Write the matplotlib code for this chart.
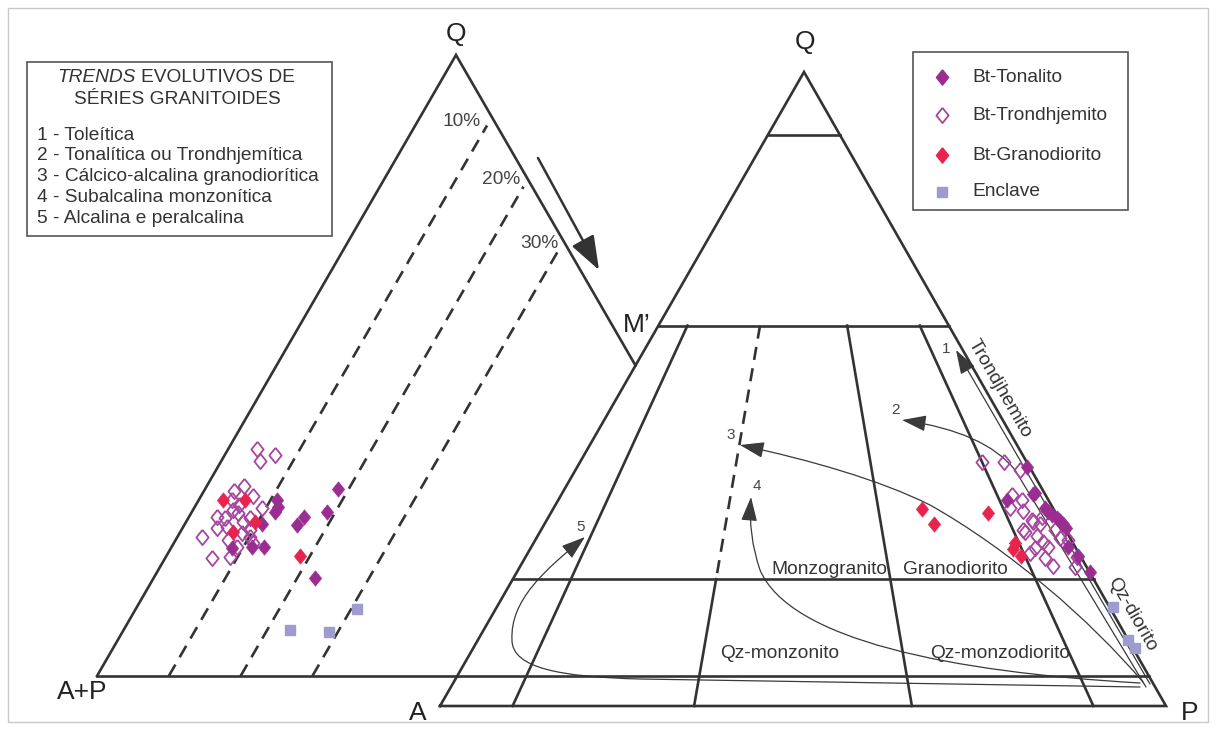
import numpy as np
import matplotlib.pyplot as plt
from matplotlib.path import Path
from matplotlib.patches import FancyArrowPatch, Rectangle

plt.rcParams['font.family'] = ['Liberation Sans', 'DejaVu Sans']

# ---- data (diagram coordinates, y downwards) ----
# left triangle Q-(A+P)-M'
ton_left_x = [277, 278, 275, 297, 304, 252, 264, 232, 327, 338, 315, 262]
ton_left_y = [500, 507, 512, 525, 517, 547, 547, 548, 512, 489, 578, 524]
tro_left_x = [257, 275, 260, 244, 234, 253, 232, 239, 233, 217, 225, 238, 243, 262,
              250, 217, 227, 250, 242, 202, 228, 253, 250, 212, 230, 237]
tro_left_y = [449, 455, 461, 486, 491, 496, 500, 505, 510, 517, 518, 513, 522, 508,
              518, 528, 527, 530, 533, 537, 540, 543, 537, 558, 557, 547]
gra_left_x = [223, 245, 255, 233, 300]
gra_left_y = [500, 500, 522, 532, 556]
enc_left_x = [290, 329, 357]
enc_left_y = [630, 632, 609]

# right triangle QAP
ton_right_x = [1027, 1035, 1007, 1033, 1045, 1048, 1052, 1057, 1060, 1063, 1066,
               1068, 1078, 1090]
ton_right_y = [467, 493, 500, 494, 508, 512, 515, 518, 521, 524, 528, 547, 556, 572]
tro_right_x = [982, 1004, 1020, 1012, 1022, 1010, 1023, 1032, 1042, 1025, 1037, 1043,
               1035, 1030, 1048, 1045, 1053, 1075, 1060, 1055, 1068, 1077, 1033, 1040,
               1023]
tro_right_y = [462, 462, 470, 495, 500, 508, 511, 520, 517, 532, 536, 542, 548, 553,
               547, 558, 566, 567, 538, 530, 540, 557, 522, 524, 530]
gra_right_x = [922, 934, 988, 1015, 1013, 1021]
gra_right_y = [509, 524, 513, 543, 549, 556]
enc_right_x = [1113, 1128, 1135]
enc_right_y = [607, 640, 648]

legend_names = ['Bt-Tonalito', 'Bt-Trondhjemito', 'Bt-Granodiorito', 'Enclave']
trend_names = ['1 - Toleítica', '2 - Tonalítica ou Trondhjemítica',
               '3 - Cálcico-alcalina granodiorítica', '4 - Subalcalina monzonítica',
               '5 - Alcalina e peralcalina']
field_ratios = [0.10, 0.35, 0.65, 0.90]   # P/(A+P)
q_levels = [0.9, 0.6, 0.2, 0.047]
mprime_levels = [0.10, 0.20, 0.30]

c_ton = '#9a2d92'
c_tro = '#a5479f'
c_gra = '#e8244e'
c_enc = '#9e9cce'
lc = '#333333'
tc = '#333333'
fs = 13.8

fig = plt.figure(figsize=(12.17, 7.31), dpi=100)
ax = fig.add_axes([0, 0, 1, 1])
ax.set_xlim(0, 1217)
ax.set_ylim(731, 0)
ax.axis('off')

ax.add_patch(Rectangle((8, 8), 1200, 714, fill=False, ec='#c8c8c8', lw=1))

lw = 1.9

# ---- left triangle ----
LQ = np.array([456, 55]); LB = np.array([97, 676])
side = 2 * (LQ[0] - LB[0])
s_l = (LQ[0] - LB[0]) / (LB[1] - LQ[1])

# right triangle vertices
RQ = np.array([804, 72]); RA = np.array([440, 706]); RP = np.array([1166, 706])


def tern(q, r):
    a = (1 - q) * (1 - r)
    p = (1 - q) * r
    return q * RQ + a * RA + p * RP


# intersection of left triangle right edge with right triangle left edge (M')
s_ra = (RQ[0] - RA[0]) / (RA[1] - RQ[1])
ym = (RA[0] + RA[1] * s_ra - LQ[0] + LQ[1] * s_l) / (s_l + s_ra)
xm = LQ[0] + (ym - LQ[1]) * s_l
x_bot = RA[0] + (RA[1] - LB[1]) * s_ra

ax.plot([LB[0], LQ[0], xm], [LB[1], LQ[1], ym], color=lc, lw=lw, solid_joinstyle='miter')
ax.plot([LB[0], x_bot], [LB[1], LB[1]], color=lc, lw=lw)

for f in mprime_levels:
    x0 = LB[0] + f * side
    yt = (x0 + LB[1] * s_l - LQ[0] + LQ[1] * s_l) / (2 * s_l)
    xt = LQ[0] + (yt - LQ[1]) * s_l
    t = 0.985
    ax.plot([x0, x0 + t * (xt - x0)], [LB[1], LB[1] + t * (yt - LB[1])],
            color=lc, lw=lw, dashes=(5, 3.2))

for lab, (x, y) in zip(['10%', '20%', '30%'], [(462, 121), (501, 180), (539, 243)]):
    ax.text(x, y, lab, fontsize=fs, color='#444444', ha='center', va='center')

ax.add_patch(FancyArrowPatch((538, 158), (599, 270),
                             arrowstyle='-|>,head_length=1.5,head_width=0.55',
                             mutation_scale=14, color=lc, lw=1.8, shrinkA=0, shrinkB=0))

# ---- right triangle ----
ax.plot([RA[0], RQ[0], RP[0], RA[0]], [RA[1], RQ[1], RP[1], RA[1]], color=lc, lw=lw,
        solid_joinstyle='miter')
for q in q_levels:
    p0 = tern(q, 0); p1 = tern(q, 1)
    ax.plot([p0[0], p1[0]], [p0[1], p1[1]], color=lc, lw=lw)

for r in field_ratios:
    if r == 0.35:
        a, b = tern(0.6, r), tern(0.2, r)
        ax.plot([a[0], b[0]], [a[1], b[1]], color=lc, lw=lw, dashes=(5, 3.2))
        a, b = tern(0.2, r), tern(0, r)
    else:
        a, b = tern(0.6, r), tern(0, r)
    ax.plot([a[0], b[0]], [a[1], b[1]], color=lc, lw=lw)

# trends
M, L, C3, C4 = Path.MOVETO, Path.LINETO, Path.CURVE3, Path.CURVE4
trends = [
    ([(1150, 684), (956, 350)], [M, L]),
    ([(1146, 687), (1015, 470), (985, 432), (902, 420)], [M, L, C3, C3]),
    ([(1143, 682), (1090, 620), (1010, 550), (930, 505), (880, 480), (810, 460), (740, 445)],
     [M, C4, C4, C4, C4, C4, C4]),
    ([(1140, 683), (950, 672), (790, 640), (760, 570), (748, 535), (751, 497)],
     [M, C4, C4, C4, C3, C3]),
    ([(1140, 687), (640, 679), (560, 677), (512, 668), (512, 640), (510, 600), (545, 570),
      (585, 537)], [M, L, C4, C4, C4, C4, C4, C4]),
]
for verts, codes in trends:
    ax.add_patch(FancyArrowPatch(path=Path(verts, codes),
                                 arrowstyle='-|>,head_length=1.5,head_width=0.5',
                                 mutation_scale=10, color='#3a3a3a', lw=0.9))

for lab, (x, y) in zip(['1', '2', '3', '4', '5'],
                       [(946, 349), (896, 410), (731, 435), (757, 486), (581, 527)]):
    ax.text(x, y, lab, fontsize=11, color='#444444', ha='center', va='center')

for lab, (x, y) in zip(['Monzogranito', 'Granodiorito', 'Qz-monzonito', 'Qz-monzodiorito'],
                       [(829, 569), (955, 569), (780, 654), (1000, 654)]):
    ax.text(x, y, lab, fontsize=fs, color=tc, ha='center', va='center')
ax.text(1000, 389, 'Trondjhemito', fontsize=fs, color=tc, ha='center', va='center',
        rotation=-60, rotation_mode='anchor')
ax.text(1132, 614, 'Qz-diorito', fontsize=fs, color=tc, ha='center', va='center',
        rotation=-60, rotation_mode='anchor')

# vertex labels
for lab, (x, y) in zip(['Q', 'Q', 'M’', 'A+P', 'A', 'P'],
                       [(456, 34), (805, 42), (637, 325), (82, 692), (418, 713), (1190, 713)]):
    ax.text(x, y, lab, fontsize=19, color='#222222', ha='center', va='center')

# ---- data points ----
dia = [(0, 1), (0.8, 0), (0, -1), (-0.8, 0), (0, 1)]
ms = 11
for xs, ys in [(tro_left_x, tro_left_y), (tro_right_x, tro_right_y)]:
    ax.plot(xs, ys, ls='none', marker=dia, ms=ms, mfc='none', mec=c_tro, mew=1.3, zorder=5)
for xs, ys in [(ton_left_x, ton_left_y), (ton_right_x, ton_right_y)]:
    ax.plot(xs, ys, ls='none', marker=dia, ms=ms, mfc=c_ton, mec=c_ton, mew=0.5, zorder=6)
for xs, ys in [(gra_left_x, gra_left_y), (gra_right_x, gra_right_y)]:
    ax.plot(xs, ys, ls='none', marker=dia, ms=ms, mfc=c_gra, mec=c_gra, mew=0.5, zorder=7)
for xs, ys in [(enc_left_x, enc_left_y), (enc_right_x, enc_right_y)]:
    ax.plot(xs, ys, ls='none', marker='s', ms=7, mfc=c_enc, mec=c_enc, zorder=7)

# ---- left legend box ----
ax.add_patch(Rectangle((27, 62), 305, 174, fill=False, ec='#555555', lw=1.2))
ax.text(136, 77, 'TRENDS', fontsize=fs, style='italic', color=tc, ha='right', va='center')
ax.text(141, 77, 'EVOLUTIVOS DE', fontsize=fs, color=tc, ha='left', va='center')
ax.text(177, 100, 'SÉRIES GRANITOIDES', fontsize=fs, color=tc, ha='center', va='center')
for i, name in enumerate(trend_names):
    ax.text(37, 135 + i * 20.8, name, fontsize=fs, color=tc, ha='left', va='center')

# ---- right legend box ----
ax.add_patch(Rectangle((913, 52), 215, 158, fill=False, ec='#555555', lw=1.2))
leg_y = [77, 115, 155, 192]
styles = [dict(marker=dia, ms=ms, mfc=c_ton, mec=c_ton),
          dict(marker=dia, ms=ms, mfc='none', mec=c_tro, mew=1.3),
          dict(marker=dia, ms=ms, mfc=c_gra, mec=c_gra),
          dict(marker='s', ms=7, mfc=c_enc, mec=c_enc)]
for name, y, st in zip(legend_names, leg_y, styles):
    ax.plot([942], [y], ls='none', **st)
    ax.text(972, y, name, fontsize=fs, color=tc, ha='left', va='center')

fig.savefig('out.png', dpi=100)
